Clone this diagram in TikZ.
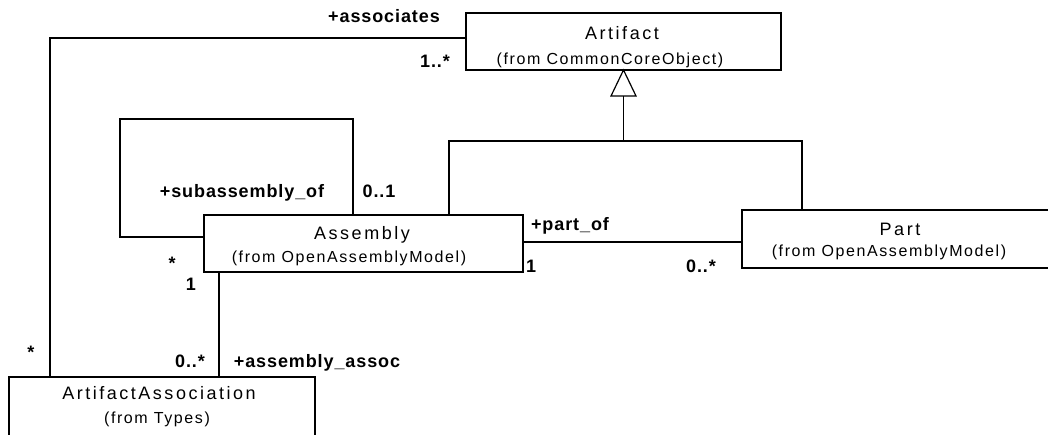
\documentclass[tikz,border=0pt]{standalone}
\usepackage{fontspec}
\setmainfont{Liberation Sans}
\newfontfamily\clsnamefont[LetterSpace=14]{Liberation Sans}
\newfontfamily\clssubfont[LetterSpace=10]{Liberation Sans}
\newfontfamily\rolefont[LetterSpace=5]{Liberation Sans}
\begin{document}
\begin{tikzpicture}[x=1pt,y=-1pt,line width=1.2pt,
  cls/.style={draw,rectangle,inner sep=0pt,outer sep=0pt},
  nm/.style={anchor=base,inner sep=0pt,font=\clsnamefont\fontsize{18}{20}\selectfont},
  subt/.style={anchor=base,inner sep=0pt,font=\clssubfont\fontsize{16}{18}\selectfont},
  lbl/.style={anchor=base,inner sep=0pt,font=\rolefont\bfseries\fontsize{18}{20}\selectfont},
  conn/.style={draw,line width=1.2pt}]
\useasboundingbox (0,0) rectangle (1048,434);

% classes
\node[cls,minimum width=315pt,minimum height=57pt] (art) at (623.5,41.5) {};
\node[nm] (artn) at (622,39) {Artifact};
\node[subt] (arts) at (610,64) {(from CommonCoreObject)};

\node[cls,minimum width=319pt,minimum height=57pt] (asm) at (363.5,243.5) {};
\node[nm] (asmn) at (362,239) {Assembly};
\node[subt] (asms) at (349,262) {(from OpenAssemblyModel)};

\node[cls,minimum width=318pt,minimum height=58pt] (part) at (901,239) {};
\node[nm] (partn) at (900,235) {Part};
\node[subt] (parts) at (889,256) {(from OpenAssemblyModel)};

\node[cls,minimum width=306pt,minimum height=63pt] (aa) at (162,408.5) {};
\node[nm] (aan) at (159,399) {ArtifactAssociation};
\node[subt] (aas) at (157,423) {(from Types)};

% generalization
\coordinate (tb) at (623.5,96);
\draw[fill=white] (art.south) -- (611,96) -- (636,96) -- cycle;
\coordinate (gj) at (623.5,141);
\coordinate (gl) at (449,141);
\coordinate (gr) at (802,141);
\draw[conn] (tb) -- (gj);
\draw[conn] (gl |- asm.north) -- (gl) -- (gr) -- (gr |- part.north);

% self association
\coordinate (s1) at (353,119);
\coordinate (s2) at (120,119);
\coordinate (s3) at (120,237);
\draw[conn] (s1 |- asm.north) -- (s1) -- (s2) -- (s3) -- (s3 -| asm.west);

% part_of
\coordinate (p1) at (523,242);
\draw[conn] (p1) -- (p1 -| part.west);

% assembly assoc
\coordinate (a1) at (219,272);
\draw[conn] (a1) -- (a1 |- aa.north);

% associates
\coordinate (c1) at (50,38);
\draw[conn] (c1 -| art.west) -- (c1) -- (c1 |- aa.north);

% labels
\node[lbl] (l1) at (384,22) {+associates};
\node[lbl] (l2) at (435,67) {1..*};
\node[lbl] (l3) at (242,197) {+subassembly\_of};
\node[lbl] (l4) at (379,197) {0..1};
\node[lbl] (l5) at (172,269) {*};
\node[lbl] (l6) at (191,290) {1};
\node[lbl] (l7) at (570,230) {+part\_of};
\node[lbl] (l8) at (531,272) {1};
\node[lbl] (l9) at (701,272) {0..*};
\node[lbl] (l10) at (31,358) {*};
\node[lbl] (l11) at (190,367) {0..*};
\node[lbl] (l12) at (317,367) {+assembly\_assoc};
\end{tikzpicture}
\end{document}
